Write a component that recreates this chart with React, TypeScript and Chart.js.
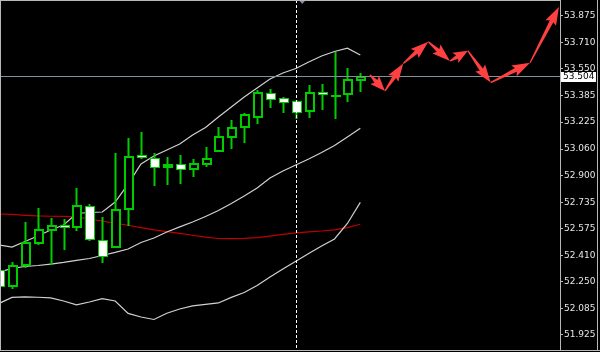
import React, { useEffect, useRef } from "react";
import { Chart, registerables } from "chart.js";

Chart.register(...registerables);

// ---- Data ----
const opens = [52.321, 52.223, 52.351, 52.488, 52.565, 52.596, 52.585, 52.712, 52.504, 52.463, 52.692, 53.024, 53.003, 52.948, 52.969, 52.938, 52.969, 53.05, 53.135, 53.193, 53.258, 53.401, 53.37, 53.352, 53.293, 53.411, 53.392, 53.396, 53.482];
const highs = [52.333, 52.371, 52.616, 52.698, 52.637, 52.631, 52.82, 52.724, 52.643, 53.038, 53.126, 53.162, 53.034, 53.013, 53.024, 53.002, 53.074, 53.193, 53.238, 53.282, 53.421, 53.425, 53.38, 53.36, 53.451, 53.456, 53.651, 53.554, 53.523];
const lows = [52.199, 52.209, 52.341, 52.48, 52.357, 52.447, 52.565, 52.504, 52.371, 52.459, 52.596, 53.005, 52.84, 52.846, 52.854, 52.895, 52.958, 53.048, 53.068, 53.105, 53.221, 53.319, 53.285, 53.248, 53.258, 53.305, 53.248, 53.356, 53.415];
const closes = [52.223, 52.349, 52.494, 52.569, 52.596, 52.582, 52.716, 52.508, 52.406, 52.692, 53.017, 53.01, 52.948, 52.969, 52.936, 52.972, 53.005, 53.14, 53.193, 53.274, 53.407, 53.366, 53.346, 53.288, 53.411, 53.395, 53.39, 53.486, 53.504];

const upperBand = [52.473, 52.461, 52.495, 52.528, 52.565, 52.596, 52.666, 52.672, 52.675, 52.736, 52.846, 52.969, 53.017, 53.054, 53.091, 53.146, 53.192, 53.256, 53.317, 53.378, 53.433, 53.488, 53.525, 53.552, 53.592, 53.629, 53.656, 53.676, 53.635];
const middleBand = [52.308, 52.33, 52.342, 52.348, 52.357, 52.367, 52.379, 52.391, 52.409, 52.428, 52.449, 52.489, 52.516, 52.553, 52.584, 52.614, 52.648, 52.684, 52.727, 52.773, 52.822, 52.883, 52.926, 52.962, 52.999, 53.039, 53.082, 53.134, 53.187];
const lowerBand = [52.116, 52.153, 52.156, 52.154, 52.15, 52.131, 52.107, 52.125, 52.146, 52.131, 52.055, 52.033, 52.018, 52.056, 52.082, 52.101, 52.11, 52.119, 52.153, 52.183, 52.226, 52.278, 52.327, 52.374, 52.422, 52.467, 52.51, 52.605, 52.734];
const slowMA = [52.663, 52.66, 52.655, 52.651, 52.649, 52.648, 52.646, 52.632, 52.62, 52.605, 52.594, 52.58, 52.566, 52.555, 52.544, 52.533, 52.522, 52.513, 52.512, 52.514, 52.519, 52.528, 52.538, 52.548, 52.554, 52.559, 52.566, 52.58, 52.6];

const priceTicks = [51.925, 52.085, 52.25, 52.41, 52.575, 52.735, 52.9, 53.06, 53.225, 53.385, 53.55, 53.71, 53.875];
const lastPrice = 53.504;
const cursorIndex = 23;
const shiftMarkerIndex = 23.5;

const forecastX = [28.75, 29.91, 31.33, 33.27, 34.95, 36.33, 38.11, 41.16, 43.4];
const forecastY = [53.513, 53.415, 53.583, 53.716, 53.598, 53.661, 53.466, 53.588, 53.928];

const X_MIN = 0.07;
const X_MAX = 43.48;
const Y_MIN = 51.8315;
const Y_MAX = 53.971;

const GREEN = "#00cc00";
const FRAME = "#b8b8b8";

function toPoints(arr: number[]) {
  return arr.map((v, i) => ({ x: i, y: v }));
}

function drawArrow(ctx: CanvasRenderingContext2D, x0: number, y0: number, x1: number, y1: number) {
  const dx = x1 - x0;
  const dy = y1 - y0;
  const len = Math.hypot(dx, dy);
  if (len < 1) return;
  const ux = dx / len;
  const uy = dy / len;
  const nx = -uy;
  const ny = ux;
  const headLen = Math.min(16, len * 0.6);
  const headW = 6;
  const bx = x1 - ux * headLen;
  const by = y1 - uy * headLen;
  ctx.beginPath();
  ctx.moveTo(x0 + nx * 0.6, y0 + ny * 0.6);
  ctx.lineTo(bx + nx * 2, by + ny * 2);
  ctx.lineTo(bx - ux * 2 + nx * headW, by - uy * 2 + ny * headW);
  ctx.lineTo(x1, y1);
  ctx.lineTo(bx - ux * 2 - nx * headW, by - uy * 2 - ny * headW);
  ctx.lineTo(bx - nx * 2, by - ny * 2);
  ctx.lineTo(x0 - nx * 0.6, y0 - ny * 0.6);
  ctx.closePath();
  ctx.fill();
}

const mt4Plugin = {
  id: "mt4",
  beforeDraw(chart: any) {
    const { ctx, width, height } = chart;
    ctx.save();
    ctx.fillStyle = "#000000";
    ctx.fillRect(0, 0, width, height);
    ctx.restore();
  },
  afterDatasetsDraw(chart: any) {
    const { ctx, chartArea: a, scales } = chart;
    const xs = scales.x;
    const ys = scales.y;
    ctx.save();
    ctx.beginPath();
    ctx.rect(a.left, a.top, a.right - a.left, a.bottom - a.top);
    ctx.clip();

    // candles
    for (let i = 0; i < opens.length; i++) {
      const cx = Math.round(xs.getPixelForValue(i));
      const yo = ys.getPixelForValue(opens[i]);
      const yc = ys.getPixelForValue(closes[i]);
      const yh = Math.round(ys.getPixelForValue(highs[i]));
      const yl = Math.round(ys.getPixelForValue(lows[i]));
      ctx.fillStyle = GREEN;
      ctx.fillRect(cx - 0.5, yh, 2, yl - yh + 1);
      const top = Math.round(Math.min(yo, yc));
      const bot = Math.round(Math.max(yo, yc));
      const bear = closes[i] < opens[i];
      if (bot - top < 1) {
        ctx.fillRect(cx - 4, top, 10, 2);
      } else {
        const h = bot - top + 1;
        ctx.fillStyle = GREEN;
        ctx.fillRect(cx - 4, top, 10, h);
        const inset = bear ? 1 : 2;
        if (h > inset * 2) {
          ctx.fillStyle = bear ? "#ffffff" : "#000000";
          ctx.fillRect(cx - 4 + inset, top + inset, 10 - inset * 2, h - inset * 2);
        }
      }
    }

    // bid line
    const yb = Math.round(ys.getPixelForValue(lastPrice)) + 0.5;
    ctx.lineWidth = 1;
    ctx.strokeStyle = "#8090a0";
    ctx.beginPath();
    ctx.moveTo(a.left, yb);
    ctx.lineTo(a.right, yb);
    ctx.stroke();

    // cursor dashed line
    const xc = Math.round(xs.getPixelForValue(cursorIndex)) + 0.5;
    ctx.strokeStyle = "#ffffff";
    ctx.setLineDash([3, 2]);
    ctx.beginPath();
    ctx.moveTo(xc, a.top);
    ctx.lineTo(xc, a.bottom);
    ctx.stroke();
    ctx.setLineDash([]);

    // forecast arrows
    ctx.fillStyle = "#ff4040";
    for (let k = 0; k < forecastX.length - 1; k++) {
      drawArrow(
        ctx,
        xs.getPixelForValue(forecastX[k]),
        ys.getPixelForValue(forecastY[k]),
        xs.getPixelForValue(forecastX[k + 1]),
        ys.getPixelForValue(forecastY[k + 1])
      );
    }

    // chart shift marker
    const xm = xs.getPixelForValue(shiftMarkerIndex);
    ctx.fillStyle = "#8090a0";
    ctx.beginPath();
    ctx.moveTo(xm - 3.5, a.top);
    ctx.lineTo(xm + 3.5, a.top);
    ctx.lineTo(xm, a.top + 4);
    ctx.closePath();
    ctx.fill();
    ctx.restore();

    // frame
    ctx.save();
    ctx.strokeStyle = FRAME;
    ctx.lineWidth = 1;
    ctx.beginPath();
    ctx.moveTo(a.left + 0.5, a.top);
    ctx.lineTo(a.left + 0.5, a.bottom);
    ctx.moveTo(a.left, a.top + 0.5);
    ctx.lineTo(a.right, a.top + 0.5);
    ctx.moveTo(a.left, a.bottom + 0.5);
    ctx.lineTo(chart.width, a.bottom + 0.5);
    ctx.moveTo(chart.width - 2.5, 0);
    ctx.lineTo(chart.width - 2.5, a.bottom);
    ctx.stroke();

    // bid price box
    const bidY = Math.round(ys.getPixelForValue(lastPrice));
    ctx.fillStyle = "#ffffff";
    ctx.fillRect(a.right + 1, bidY - 4, 35, 10);
    ctx.fillStyle = "#000000";
    ctx.font = "9px 'DejaVu Sans'";
    ctx.textBaseline = "middle";
    ctx.textAlign = "left";
    ctx.fillText(lastPrice.toFixed(3), a.right + 3, bidY + 1);
    ctx.restore();
  },
};

export default function App() {
  const canvasRef = useRef<HTMLCanvasElement | null>(null);

  useEffect(() => {
    const canvas = canvasRef.current;
    if (!canvas) return;
    const lineDs = (label: string, data: number[], color: string) => ({
      label,
      data: toPoints(data),
      borderColor: color,
      borderWidth: 1.2,
      pointRadius: 0,
      tension: 0,
      fill: false,
    });
    const chart = new Chart(canvas, {
      type: "line",
      data: {
        datasets: [
          lineDs("Upper", upperBand, "#d0d0d0"),
          lineDs("Middle", middleBand, "#d0d0d0"),
          lineDs("Lower", lowerBand, "#d0d0d0"),
          lineDs("MA", slowMA, "#c00000"),
        ],
      },
      options: {
        animation: false,
        responsive: false,
        devicePixelRatio: 1,
        layout: { padding: { top: 0, left: 0, right: 0, bottom: 2 } },
        plugins: { legend: { display: false }, tooltip: { enabled: false } },
        scales: {
          x: { type: "linear", display: false, min: X_MIN, max: X_MAX },
          y: {
            type: "linear",
            position: "right",
            min: Y_MIN,
            max: Y_MAX,
            afterBuildTicks: (scale: any) => {
              scale.ticks = priceTicks.map((v) => ({ value: v }));
            },
            afterFit: (scale: any) => {
              scale.width = 40;
              scale.paddingTop = 0;
              scale.paddingBottom = 0;
            },
            ticks: {
              autoSkip: false,
              padding: 1,
              color: "#e6e6e6",
              font: { family: "'DejaVu Sans'", size: 9 },
              callback: (v: any) => Number(v).toFixed(3),
            },
            grid: { drawOnChartArea: false, drawTicks: true, tickLength: 3, color: FRAME },
            border: { display: true, color: FRAME },
          },
        },
      },
      plugins: [mt4Plugin],
    } as any);
    return () => chart.destroy();
  }, []);

  return (
    <div style={{ position: "fixed", left: 0, top: 0, width: 600, height: 352, background: "#000" }}>
      <canvas ref={canvasRef} width={600} height={352} style={{ display: "block" }} />
    </div>
  );
}
